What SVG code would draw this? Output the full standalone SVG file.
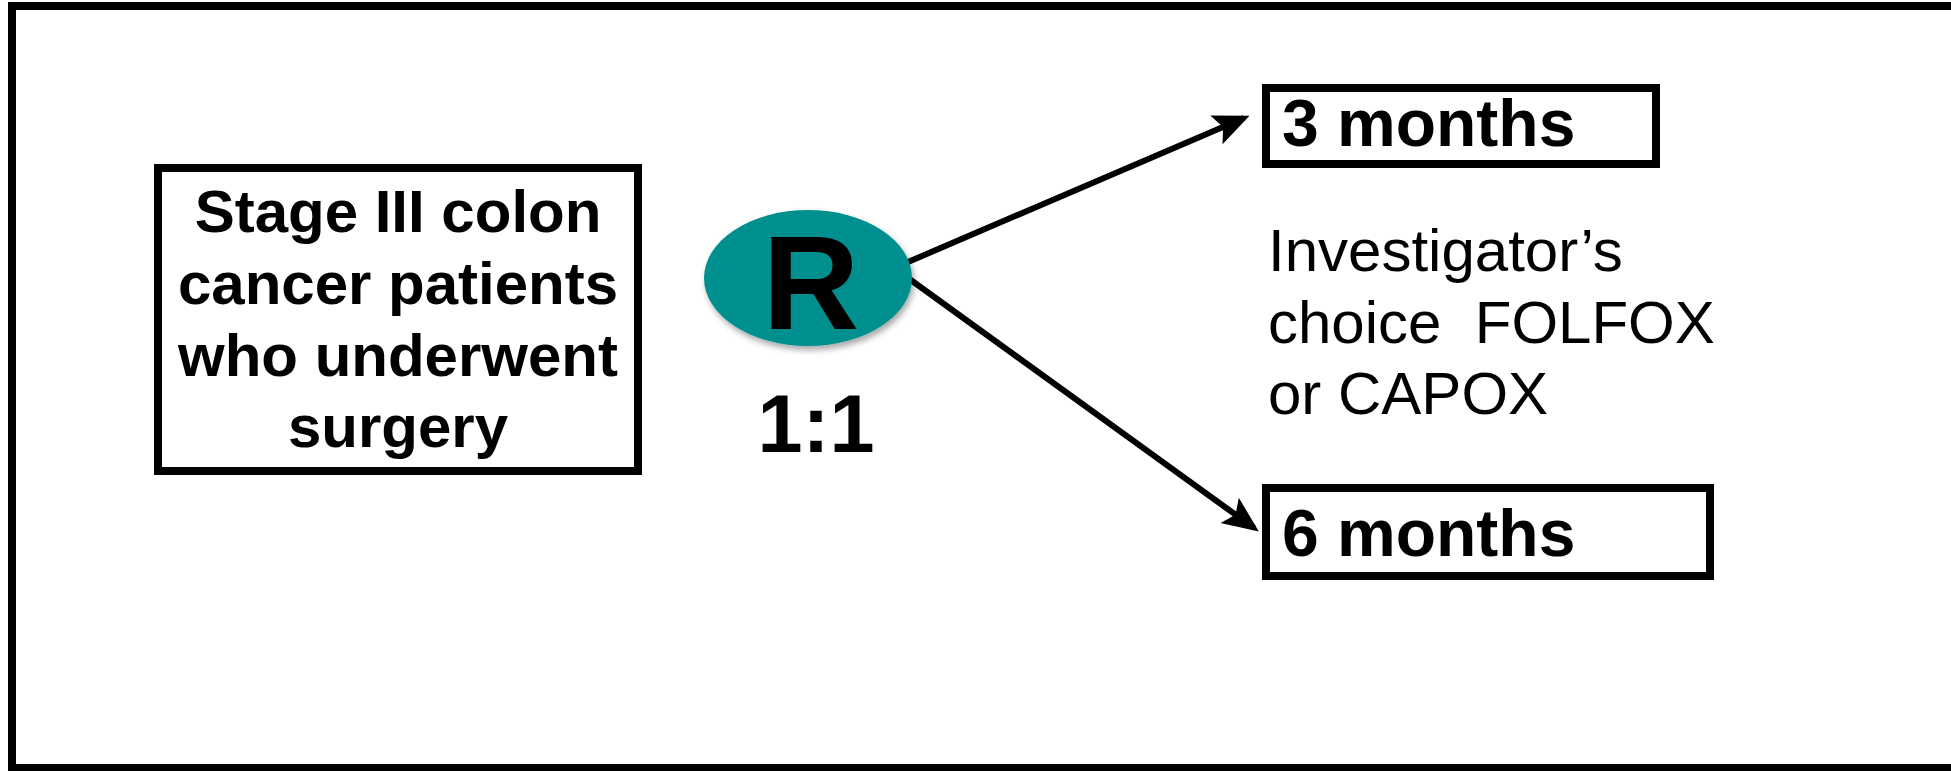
<svg xmlns="http://www.w3.org/2000/svg" width="1951" height="771" viewBox="0 0 1951 771">
<style>
.box{fill:#fff;stroke:#000;stroke-width:8}
.b{font-family:"Liberation Sans",Arial,sans-serif;font-weight:bold;fill:#000}
.r{font-family:"Liberation Sans",Arial,sans-serif;fill:#000}
.conn{stroke:#000;stroke-width:6;fill:none;marker-end:url(#ah)}
</style>
<defs>
<marker id="ah" markerWidth="6" markerHeight="6" refX="5" refY="3" orient="auto" markerUnits="strokeWidth">
<path d="M0,0.4 L6,3 L0,5.6 L1.2,3 Z" fill="#000"/>
</marker>
<filter id="sh" x="-20%" y="-20%" width="140%" height="140%">
<feGaussianBlur in="SourceAlpha" stdDeviation="3"/>
<feOffset dx="2" dy="4"/>
<feComponentTransfer><feFuncA type="linear" slope="0.35"/></feComponentTransfer>
<feMerge><feMergeNode/><feMergeNode in="SourceGraphic"/></feMerge>
</filter>
</defs>
<rect width="1951" height="771" fill="#fff"/>
<rect id="frame" x="12" y="6" width="1960" height="762" fill="none" stroke="#000" stroke-width="8"/>
<g id="connectors">
<line class="conn" x1="908" y1="262" x2="1244" y2="118"/>
<line class="conn" x1="908" y1="278" x2="1254" y2="528"/>
</g>
<g id="stage">
<rect class="box" x="158" y="168" width="480" height="303"/>
<text class="b" font-size="60" text-anchor="middle" x="398" y="232">Stage III colon</text>
<text class="b" font-size="60" text-anchor="middle" x="398" y="304">cancer patients</text>
<text class="b" font-size="60" text-anchor="middle" x="398" y="376">who underwent</text>
<text class="b" font-size="60" text-anchor="middle" x="398" y="447">surgery</text>
</g>
<g id="R">
<ellipse cx="808" cy="278" rx="104" ry="68" fill="#008F8F" filter="url(#sh)"/>
<text class="b" font-size="134" text-anchor="middle" x="811" y="329">R</text>
<text class="b" font-size="81" text-anchor="middle" x="816" y="452">1:1</text>
</g>
<g id="m3">
<rect class="box" x="1266" y="88" width="390" height="76"/>
<text class="b" font-size="66" x="1282" y="146">3 months</text>
</g>
<g id="m6">
<rect class="box" x="1266" y="488" width="444" height="88"/>
<text class="b" font-size="66" x="1282" y="556">6 months</text>
</g>
<g id="note">
<text class="r" font-size="60" x="1268" y="271">Investigator’s</text>
<text class="r" font-size="60" x="1268" y="343" xml:space="preserve">choice  FOLFOX</text>
<text class="r" font-size="60" x="1268" y="414">or CAPOX</text>
</g>
</svg>
